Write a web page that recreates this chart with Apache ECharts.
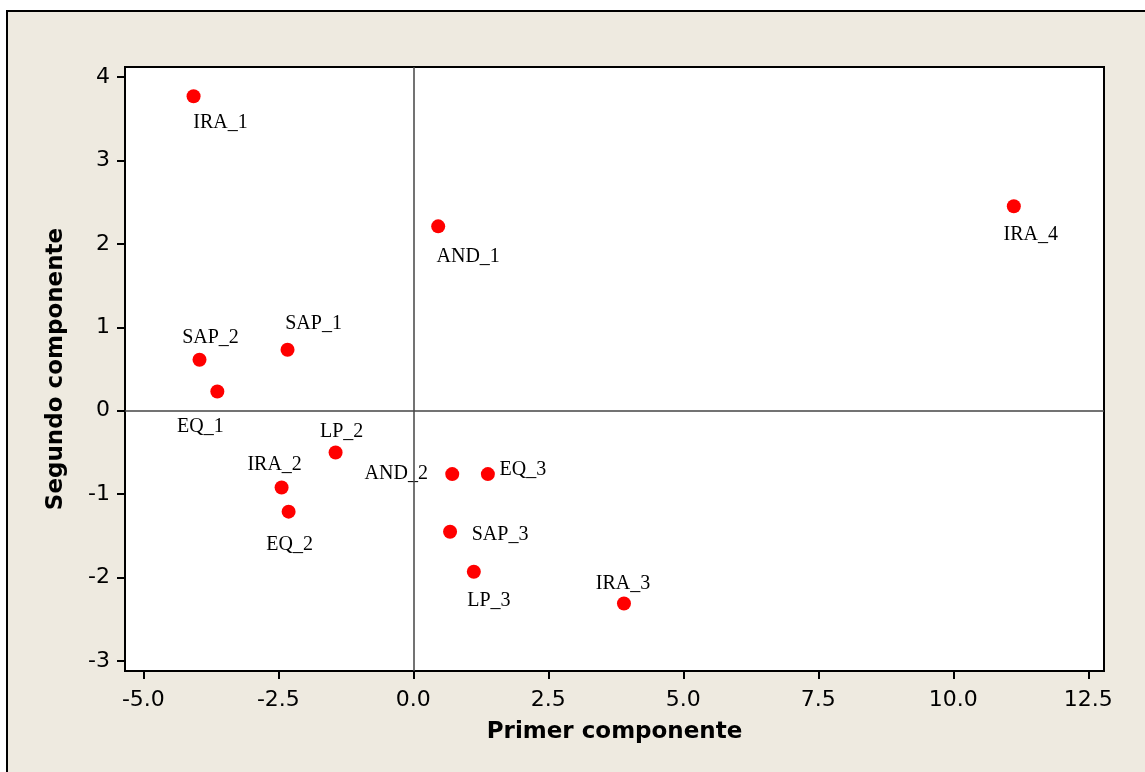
<!DOCTYPE html>
<html>
<head>
<meta charset="utf-8">
<script src="https://cdn.jsdelivr.net/npm/echarts@6/dist/echarts.min.js"></script>
<style>
  html, body { margin: 0; padding: 0; background: #ffffff; }
  #chart { width: 1145px; height: 772px; }
</style>
</head>
<body>
<div id="chart"></div>
<script>
// Sample names and their scores on the first two principal components
const names = ['IRA_1', 'AND_1', 'IRA_4', 'SAP_2', 'SAP_1', 'EQ_1', 'LP_2', 'IRA_2',
               'EQ_2', 'AND_2', 'EQ_3', 'SAP_3', 'LP_3', 'IRA_3'];
const comp1 = [-4.07, 0.46, 11.12, -3.96, -2.33, -3.63, -1.44, -2.44,
               -2.31, 0.72, 1.38, 0.68, 1.12, 3.90];
const comp2 = [3.77, 2.21, 2.45, 0.61, 0.73, 0.23, -0.50, -0.92,
               -1.21, -0.76, -0.76, -1.45, -1.93, -2.31];

const xTicks = [-5, -2.5, 0, 2.5, 5, 7.5, 10, 12.5];
const yTicks = [-3, -2, -1, 0, 1, 2, 3, 4];

// Label placement (pixel offsets from each point's centre)
const labelOffsets = [[27, 27], [30, 30], [17, 28], [11, -22], [26, -26], [-17, 35],
                      [6, -21], [-7, -23], [1, 33], [-56, 0], [35, -4], [50, 3],
                      [15, 29], [-1, -20]];

const points = names.map((n, i) => ({
  name: n,
  value: [comp1[i], comp2[i]],
  label: { offset: labelOffsets[i] }
}));

const tickFont = { fontFamily: 'DejaVu Sans', fontSize: 22, color: '#000' };
const titleFont = { fontFamily: 'DejaVu Sans', fontSize: 23, fontWeight: 'bold', color: '#000' };

const chart = echarts.init(document.getElementById('chart'), null, { renderer: 'canvas' });
chart.setOption({
  backgroundColor: '#ffffff',
  animation: false,
  graphic: [{
    type: 'rect',
    z: -10,
    silent: true,
    shape: { x: 7, y: 11, width: 1200, height: 820 },
    style: { fill: '#EEEAE0', stroke: '#000', lineWidth: 2 }
  }],
  grid: {
    left: 125, top: 67, right: 41, bottom: 101,
    show: true, backgroundColor: '#ffffff', borderColor: '#000', borderWidth: 2
  },
  xAxis: {
    type: 'value',
    min: -5.34, max: 12.79,
    name: 'Primer componente',
    nameLocation: 'middle',
    nameGap: 50,
    nameTextStyle: titleFont,
    axisLine: { show: true, onZero: false, lineStyle: { color: '#000', width: 2 } },
    axisTick: { show: true, length: 8, lineStyle: { color: '#000', width: 2 }, customValues: xTicks },
    axisLabel: Object.assign({ margin: 18, customValues: xTicks,
      formatter: v => v.toFixed(1) }, tickFont),
    splitLine: { show: false }
  },
  yAxis: {
    type: 'value',
    min: -3.12, max: 4.12,
    name: 'Segundo componente',
    nameLocation: 'middle',
    nameGap: 57,
    nameTextStyle: titleFont,
    axisLine: { show: true, onZero: false, lineStyle: { color: '#000', width: 2 } },
    axisTick: { show: true, length: 8, lineStyle: { color: '#000', width: 2 }, customValues: yTicks },
    axisLabel: Object.assign({ margin: 15, customValues: yTicks,
      formatter: v => String(v) }, tickFont),
    splitLine: { show: false }
  },
  series: [{
    type: 'scatter',
    data: points,
    symbol: 'circle',
    symbolSize: 14,
    itemStyle: { color: '#FF0000', opacity: 1 },
    label: {
      show: true,
      position: 'inside',
      align: 'center',
      verticalAlign: 'middle',
      formatter: p => p.name,
      fontFamily: 'Liberation Serif',
      fontSize: 20,
      color: '#000',
      textBorderWidth: 0
    },
    markLine: {
      silent: true,
      symbol: 'none',
      label: { show: false },
      lineStyle: { color: '#444', width: 1.5, type: 'solid' },
      data: [{ xAxis: 0 }, { yAxis: 0 }]
    }
  }]
});
</script>
</body>
</html>
